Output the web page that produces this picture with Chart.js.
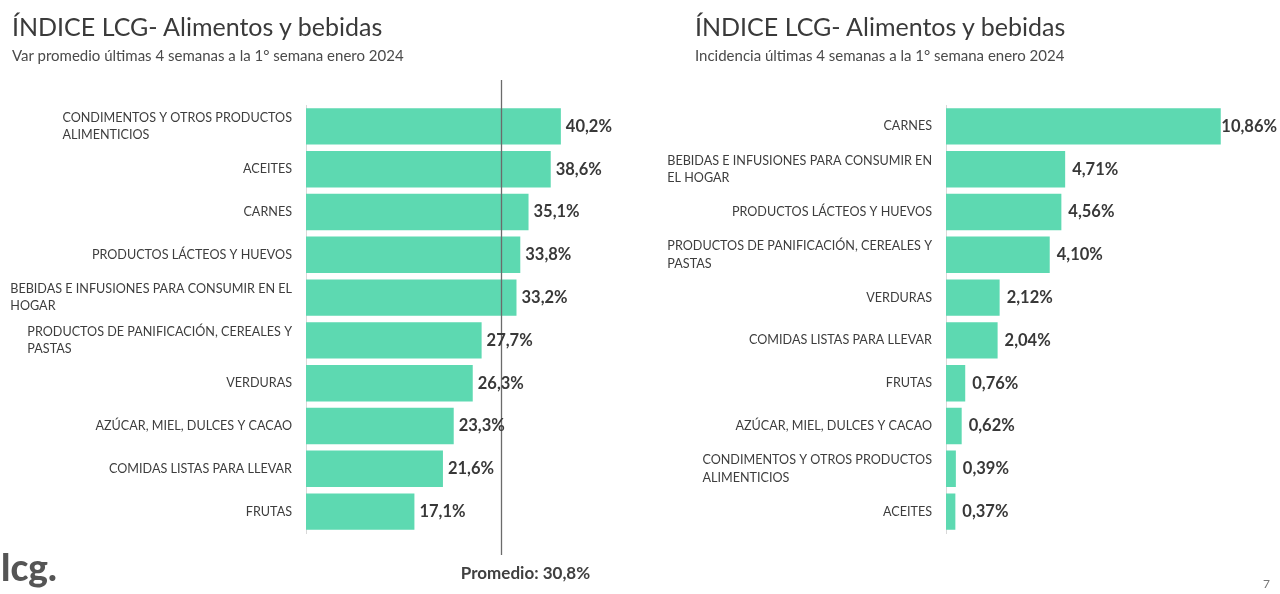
<!DOCTYPE html>
<html>
<head>
<meta charset="utf-8">
<script src="https://cdn.jsdelivr.net/npm/chart.js@4.4.1/dist/chart.umd.min.js"></script>
<style>
  body { margin: 0; background: #fff; font-family: Lato, sans-serif; }
  .page { position: relative; width: 1280px; height: 594px; overflow: hidden; }
  .box { position: absolute; top: 0; width: 640px; height: 594px; }
  .title { position: absolute; font-size: 25px; color: #3a3a3a; white-space: nowrap; }
  .sub { position: absolute; font-size: 15px; color: #4a4a4a; white-space: nowrap; }
  .logo { position: absolute; left: 1px; top: 544px; font-size: 37px; font-weight: 900; color: #555; }
  .num { position: absolute; left: 1263px; top: 576px; font-size: 12px; color: #777; }
</style>
</head>
<body>
<div class="page">
  <div class="box" style="left:0"><canvas id="leftChart"></canvas></div>
  <div class="box" style="left:640px"><canvas id="rightChart"></canvas></div>
  <div class="title" style="left:12px; top:11px">ÍNDICE LCG- Alimentos y bebidas</div>
  <div class="sub" style="left:12px; top:46px">Var promedio últimas 4 semanas a la 1° semana enero 2024</div>
  <div class="title" style="left:695px; top:11px">ÍNDICE LCG- Alimentos y bebidas</div>
  <div class="sub" style="left:695px; top:46px">Incidencia últimas 4 semanas a la 1° semana enero 2024</div>
  <div class="logo">lcg.</div>
  <div class="num">7</div>
</div>
<script>
// datos
const leftLabels = [
    ['CONDIMENTOS Y OTROS PRODUCTOS', 'ALIMENTICIOS'],
    'ACEITES',
    'CARNES',
    'PRODUCTOS LÁCTEOS Y HUEVOS',
    ['BEBIDAS E INFUSIONES PARA CONSUMIR EN EL', 'HOGAR'],
    ['PRODUCTOS DE PANIFICACIÓN, CEREALES Y', 'PASTAS'],
    'VERDURAS',
    'AZÚCAR, MIEL, DULCES Y CACAO',
    'COMIDAS LISTAS PARA LLEVAR',
    'FRUTAS'
];
const leftValues = [40.2, 38.6, 35.1, 33.8, 33.2, 27.7, 26.3, 23.3, 21.6, 17.1];
const promedio = 30.8;

const rightLabels = [
    'CARNES',
    ['BEBIDAS E INFUSIONES PARA CONSUMIR EN', 'EL HOGAR'],
    'PRODUCTOS LÁCTEOS Y HUEVOS',
    ['PRODUCTOS DE PANIFICACIÓN, CEREALES Y', 'PASTAS'],
    'VERDURAS',
    'COMIDAS LISTAS PARA LLEVAR',
    'FRUTAS',
    'AZÚCAR, MIEL, DULCES Y CACAO',
    ['CONDIMENTOS Y OTROS PRODUCTOS', 'ALIMENTICIOS'],
    'ACEITES'
];
const rightValues = [10.86, 4.71, 4.56, 4.10, 2.12, 2.04, 0.76, 0.62, 0.39, 0.37];

const barColor = '#5dd9b1';

// etiquetas de categoría (bloque alineado a la izquierda) y valores
const labelsPlugin = {
    id: 'labelsPlugin',
    afterDatasetsDraw(chart, args, opts) {
        const { ctx, scales: { x, y }, chartArea } = chart;
        const values = chart.data.datasets[0].data;
        ctx.save();

        // línea de promedio
        if (opts.avg != null) {
            const ax = Math.round(x.getPixelForValue(opts.avg)) + 0.5;
            ctx.strokeStyle = '#6b6b6b';
            ctx.lineWidth = 1.3;
            ctx.beginPath();
            ctx.moveTo(ax, 80);
            ctx.lineTo(ax, 555);
            ctx.stroke();
            ctx.font = 'bold 17px Lato';
            ctx.fillStyle = '#404040';
            ctx.textAlign = 'center';
            ctx.textBaseline = 'middle';
            ctx.fillText('Promedio: ' + opts.avg.toFixed(1).replace('.', ',') + '%', ax + 24, 574);
        }

        chart.data.labels.forEach((lab, i) => {
            const cy = y.getPixelForValue(i);
            const lines = Array.isArray(lab) ? lab : [lab];
            ctx.font = '12.6px Lato';
            ctx.fillStyle = '#3d3d3d';
            ctx.textBaseline = 'middle';
            ctx.textAlign = 'left';
            const w = Math.max(...lines.map(l => ctx.measureText(l).width));
            const lx = chartArea.left - 14 - w;
            lines.forEach((l, k) => {
                const ly = cy + (k - (lines.length - 1) / 2) * 17.5;
                const lw = ctx.measureText(l).width;
                ctx.fillText(l, lines.length > 1 ? lx : chartArea.left - 14 - lw, ly);
            });

            // valor
            const txt = values[i].toFixed(opts.decimals).replace('.', ',') + '%';
            ctx.font = 'bold 16.5px Lato';
            ctx.fillStyle = '#383838';
            const tw = ctx.measureText(txt).width;
            let vx = x.getPixelForValue(values[i]) + opts.gap;
            if (vx + tw > chart.width - 3) vx = chart.width - 3 - tw;
            ctx.fillText(txt, vx, cy);
        });
        ctx.restore();
    }
};

function makeChart(id, labels, values, xMax, padRight, extra) {
    return new Chart(document.getElementById(id), {
        type: 'bar',
        data: {
            labels: labels,
            datasets: [{
                data: values,
                backgroundColor: barColor,
                borderWidth: 0,
                categoryPercentage: 1,
                barPercentage: 0.85
            }]
        },
        options: {
            indexAxis: 'y',
            responsive: true,
            maintainAspectRatio: false,
            animation: false,
            layout: { padding: { top: 105, bottom: 61, left: 0, right: padRight } },
            plugins: {
                legend: { display: false },
                tooltip: { enabled: false },
                labelsPlugin: extra
            },
            scales: {
                x: { display: false, min: 0, max: xMax },
                y: {
                    ticks: { display: false },
                    grid: { display: false, drawTicks: false },
                    border: { display: true, color: '#d9d9d9' },
                    afterFit(scale) { scale.width = 306; }
                }
            }
        },
        plugins: [labelsPlugin]
    });
}

makeChart('leftChart', leftLabels, leftValues, 50, 17, { avg: promedio, decimals: 1, gap: 5 });
makeChart('rightChart', rightLabels, rightValues, 12, 30.4, { avg: null, decimals: 2, gap: 7 });
</script>
</body>
</html>
